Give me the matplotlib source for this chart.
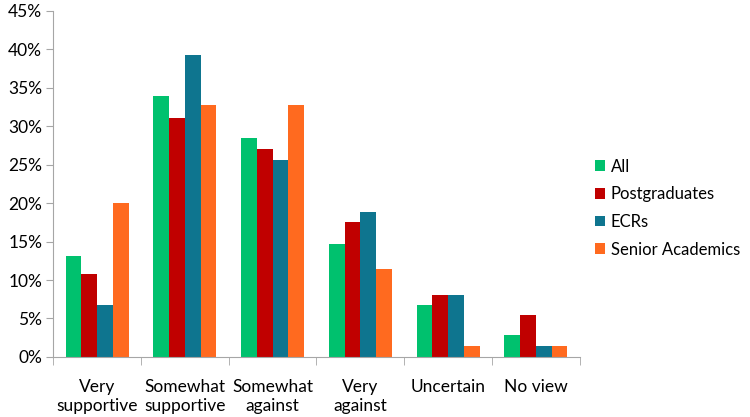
import numpy as np
import matplotlib
import matplotlib.pyplot as plt
from matplotlib.ticker import PercentFormatter, FixedLocator

matplotlib.use("Agg")

categories = ["Very\nsupportive", "Somewhat\nsupportive", "Somewhat\nagainst",
              "Very\nagainst", "Uncertain", "No view"]
series_names = ["All", "Postgraduates", "ECRs", "Senior Academics"]
all_vals = [13.1, 33.9, 28.5, 14.7, 6.7, 2.9]
postgrad_vals = [10.8, 31.1, 27.0, 17.5, 8.1, 5.4]
ecr_vals = [6.7, 39.2, 25.6, 18.9, 8.1, 1.4]
senior_vals = [20.0, 32.8, 32.8, 11.4, 1.4, 1.4]
colors = ["#00C16E", "#C00000", "#0E758F", "#FF6A1F"]

plt.rcParams["font.family"] = ["Lato", "DejaVu Sans"]

fig = plt.figure(figsize=(7.5, 4.17), dpi=100)
ax = fig.add_axes([0.071, 0.144, 0.702, 0.830])

x = np.arange(len(categories))
w = 0.18
data = [all_vals, postgrad_vals, ecr_vals, senior_vals]
for i, (vals, name, c) in enumerate(zip(data, series_names, colors)):
    ax.bar(x + (i - 1.5) * w, vals, width=w, color=c, label=name)

ax.set_xlim(-0.5, len(categories) - 0.5)
ax.set_ylim(0, 45)
ax.set_yticks(np.arange(0, 46, 5))
ax.yaxis.set_major_formatter(PercentFormatter(decimals=0))

ax.set_xticks(x)
ax.set_xticklabels(categories, va="top", linespacing=1.25)
ax.xaxis.set_minor_locator(FixedLocator(np.arange(-0.5, len(categories), 1)))
ax.tick_params(axis="x", which="major", length=0, pad=16, labelsize=12.5)
ax.tick_params(axis="x", which="minor", length=6, color="#A6A6A6", direction="out")
ax.tick_params(axis="y", length=5, color="#A6A6A6", labelsize=12.5, pad=3)

for s in ["top", "right"]:
    ax.spines[s].set_visible(False)
for s in ["left", "bottom"]:
    ax.spines[s].set_color("#A6A6A6")

leg = ax.legend(loc="center left", bbox_to_anchor=(1.0, 0.43), frameon=False,
                fontsize=12, handlelength=0.6, handleheight=0.6,
                handletextpad=0.35, labelspacing=0.7)

plt.savefig("out.png", dpi=100)
plt.close(fig)
